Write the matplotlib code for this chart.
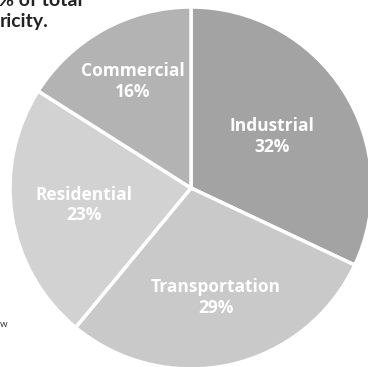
import numpy as np
import matplotlib.pyplot as plt

sectors = ['Industrial', 'Transportation', 'Residential', 'Commercial']
shares = [32, 29, 23, 16]
colors = ['#a3a3a3', '#c9c9c9', '#d2d2d2', '#b3b3b3']
# how far out each label sits (fraction of radius)
label_dist = [0.53, 0.62, 0.60, 0.67]

W, H = 368, 367
fig = plt.figure(figsize=(W / 100, H / 100), dpi=100)
ax = fig.add_axes([0, 0, 1, 1])

cx, cy, r = 191, H - 188, 181
wedges, _ = ax.pie(shares, colors=colors, startangle=90, counterclock=False,
                   center=(cx, cy), radius=r, frame=True,
                   wedgeprops=dict(edgecolor='white', linewidth=2.5))
ax.set_xlim(0, W)
ax.set_ylim(0, H)
ax.set_aspect('equal')
ax.axis('off')

for w, name, pct, d in zip(wedges, sectors, shares, label_dist):
    ang = np.deg2rad((w.theta1 + w.theta2) / 2)
    x = cx + d * r * np.cos(ang)
    y = cy + d * r * np.sin(ang)
    ax.text(x, y, f'{name}\n{pct}%', ha='center', va='center', color='white',
            fontsize=12.5, fontweight='bold', family='Open Sans',
            linespacing=1.2)

# cropped caption text from the page
fig.text(-2 / W, 1 - 6 / H, '% of total', fontsize=14, fontweight='bold',
         family='Lato', color='#222222', va='baseline')
fig.text(0, 1 - 27 / H, 'ricity.', fontsize=14, fontweight='bold',
         family='Lato', color='#222222', va='baseline')
fig.text(0, 1 - 327 / H, 'w', fontsize=7, family='Lato', color='#333333',
         va='baseline')

fig.savefig('out.png', dpi=100)
